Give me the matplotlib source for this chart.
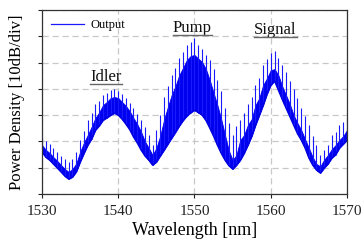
import matplotlib
matplotlib.use("Agg")
import matplotlib.pyplot as plt
from matplotlib.lines import Line2D

plt.rcParams["font.family"] = ["Liberation Serif", "DejaVu Serif"]

# wavelength grid (nm), 0.5 nm steps
wavelength = [1530 + 0.5 * i for i in range(81)]

# lower envelope of the fringes (dB, relative)
lower = [16.0, 14.0, 12.9, 11.4, 9.9, 8.4, 6.8, 5.7, 6.5, 8.5,
         12.2, 15.5, 18.6, 21.0, 24.3, 26.0, 28.1, 29.0, 30.0, 30.8,
         30.0, 28.5, 26.6, 24.5, 21.7, 19.4, 16.7, 14.5, 12.9, 11.0,
         12.2, 14.5, 16.7, 19.0, 21.3, 23.5, 25.9, 28.0, 29.7, 31.0,
         31.9, 31.0, 30.0, 28.0, 25.1, 22.0, 18.6, 15.5, 12.9, 10.8,
         9.5, 11.0, 12.9, 15.5, 18.6, 22.0, 26.2, 30.0, 33.8, 38.0,
         41.4, 43.0, 39.5, 36.0, 32.7, 29.5, 26.2, 23.0, 20.5, 17.5,
         13.7, 11.0, 9.1, 8.0, 9.9, 11.5, 13.7, 15.0, 17.5, 19.0,
         20.5]

# top of the dense (solid) part of the trace
band = [18.6, 16.8, 15.6, 14.0, 12.6, 11.0, 9.5, 8.4, 9.5, 11.6,
        16.0, 19.5, 22.4, 25.5, 28.9, 31.0, 33.8, 35.0, 36.5, 36.9,
        36.5, 35.0, 33.5, 31.5, 28.9, 26.5, 23.6, 20.0, 17.5, 14.8,
        17.5, 22.0, 28.1, 33.0, 37.6, 41.0, 45.2, 48.0, 51.0, 52.5,
        52.9, 51.5, 50.2, 47.5, 43.3, 38.5, 33.8, 28.5, 22.4, 16.5,
        12.9, 14.8, 20.5, 22.4, 26.2, 28.5, 33.8, 36.5, 41.4, 44.0,
        47.1, 47.5, 45.2, 41.0, 37.6, 34.2, 30.0, 27.0, 24.3, 20.8,
        17.5, 14.0, 11.4, 10.5, 13.0, 14.8, 17.0, 18.6, 20.5, 22.0,
        24.3]

# fringe peaks (upper envelope)
upper = [21.7, 20.0, 19.0, 17.5, 16.0, 14.5, 13.5, 12.0, 13.2, 16.0,
         20.5, 24.0, 28.1, 31.0, 34.2, 35.5, 37.6, 38.5, 39.5, 40.0,
         39.2, 38.0, 36.5, 34.8, 32.7, 30.5, 28.1, 25.5, 22.4, 18.6,
         24.3, 30.0, 36.9, 41.0, 45.2, 48.0, 51.7, 54.0, 56.7, 58.0,
         59.3, 56.5, 55.0, 53.0, 51.0, 47.5, 43.3, 39.0, 32.7, 27.0,
         22.4, 26.0, 28.1, 31.0, 34.2, 37.0, 41.4, 44.0, 49.0, 51.5,
         53.6, 54.4, 51.7, 49.0, 46.4, 43.0, 39.9, 36.5, 32.7, 29.5,
         26.2, 22.0, 18.6, 14.8, 16.7, 18.6, 22.4, 23.5, 26.2, 27.5,
         28.9]

labels = ["Idler", "Pump", "Signal"]
label_x = [1538.4, 1549.7, 1560.6]
label_y = [44.5, 63.3, 62.5]

fig = plt.figure(figsize=(3.61, 2.40), dpi=100)
ax = fig.add_axes([0.1163, 0.1917, 0.8449, 0.7666])

ax.fill_between(wavelength, lower, band, color="#0000f0", lw=0.6)
ax.vlines(wavelength, lower, upper, color="#1a1aff", lw=0.8)
ax.plot(wavelength, lower, color="#0000e0", lw=1.0)

ax.set_xlim(1530, 1570)
ax.set_ylim(0, 70)
ax.set_xticks([1530, 1540, 1550, 1560, 1570])
ax.set_yticks(range(0, 71, 10))
ax.set_yticklabels([])
ax.tick_params(direction="out", length=3, width=0.8, labelsize=11, colors="#222222")
ax.tick_params(axis="x", pad=5)
ax.grid(True, color="#c8c8c8", ls=(0, (5, 3)), lw=0.9)
ax.set_axisbelow(True)
for s in ax.spines.values():
    s.set_color("#333333")
    s.set_linewidth(0.9)

ax.set_xlabel("Wavelength [nm]", fontsize=13, labelpad=3)
ax.set_ylabel("Power Density [10dB/div]", fontsize=12, labelpad=6)

handle = Line2D([], [], color="#1a1aff", lw=0.9)
ax.legend([handle], ["Output"], loc="upper left", frameon=False, fontsize=9,
          handlelength=2.6, borderaxespad=0.35, handletextpad=0.5)

texts = []
for name, x, y in zip(labels, label_x, label_y):
    texts.append(ax.text(x, y, name, fontsize=12, ha="center", va="center", color="#111111"))

fig.canvas.draw()
inv = fig.transFigure.inverted()
for t in texts:
    bb = t.get_window_extent()
    (x0, y0), (x1, _) = inv.transform([[bb.x0, bb.y0 + 1], [bb.x1, bb.y0 + 1]])
    fig.add_artist(Line2D([x0, x1], [y0, y0], color="#666666", lw=1.0))

fig.savefig("out.png", dpi=100)
